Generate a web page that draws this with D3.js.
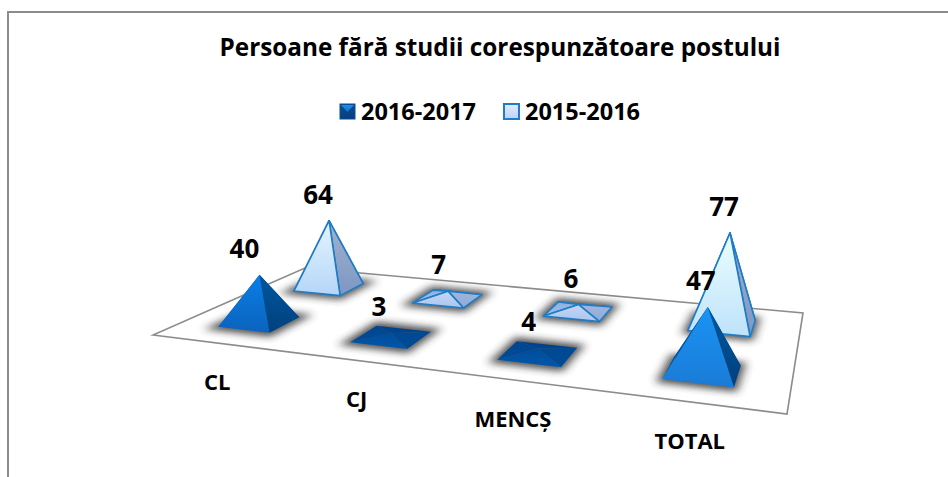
<!DOCTYPE html>
<html>
<head>
<meta charset="utf-8">
<script src="https://cdnjs.cloudflare.com/ajax/libs/d3/7.8.5/d3.min.js"></script>
<style>
  html, body { margin: 0; background: #fff; }
  text { font-family: "Open Sans", Lato, sans-serif; font-weight: 700; fill: #000; }
</style>
</head>
<body>
<div id="chartArea"></div>
<script>
const svgWidth = 948;
const svgHeight = 477;

const categories = ['CL', 'CJ', 'MENCȘ', 'TOTAL'];
const seriesNames = ['2016-2017', '2015-2016'];
const values2016 = [40, 3, 4, 47];
const values2015 = [64, 7, 6, 77];

const canvas = d3.select('#chartArea')
  .append('svg')
  .attr('width', svgWidth)
  .attr('height', svgHeight)
  .style('display', 'block');

// floor corners on screen: front left, front right, back right, back left
const floorCorners = [[153, 335], [787, 414], [803, 313], [305, 268]];

// homography from the unit square to the floor
const [[x0, y0], [x1, y1], [x2, y2], [x3, y3]] = floorCorners;
const sx = x0 - x1 + x2 - x3;
const sy = y0 - y1 + y2 - y3;
const den = (x1 - x2) * (y3 - y2) - (x3 - x2) * (y1 - y2);
const g = (sx * (y3 - y2) - (x3 - x2) * sy) / den;
const h = ((x1 - x2) * sy - sx * (y1 - y2)) / den;

function floorPoint(u, v) {
  const w = 1 + g * u + h * v;
  return [
    ((x1 - x0 + g * x1) * u + (x3 - x0 + h * x3) * v + x0) / w,
    ((y1 - y0 + g * y1) * u + (y3 - y0 + h * y3) * v + y0) / w
  ];
}

const uScale = d3.scaleBand().domain(categories).range([0, 1]).paddingInner(0.6).paddingOuter(0.3);
const vScale = d3.scaleBand().domain(seriesNames).range([0, 1]).paddingInner(0.61).paddingOuter(0.305);
const heightScale = d3.scaleLinear().domain([0, 1]).range([0, 1.23]);
const leanScale = d3.scaleLinear().domain([0.125, 0.875]).range([0, 0.085]);
const labelShift = {
  '2016-2017': d3.scaleLinear().domain([0.125, 0.875]).range([-15, -7]),
  '2015-2016': d3.scaleLinear().domain([0.125, 0.875]).range([-11, -6])
};

function pyramid(cat, name, value) {
  const u = uScale(cat);
  const v = vScale(name);
  const bu = uScale.bandwidth();
  const bv = vScale.bandwidth();
  const uc = u + bu / 2;
  const vc = v + bv / 2;
  const w = 1 + g * uc + h * vc;
  const px = heightScale(value) / w;
  const c = floorPoint(uc, vc);
  return {
    cat, name, value, uc,
    apex: [c[0] + px * leanScale(uc), c[1] - px],
    fl: floorPoint(u, v),
    fr: floorPoint(u + bu, v),
    br: floorPoint(u + bu, v + bv),
    bl: floorPoint(u, v + bv)
  };
}

const pyramids2016 = categories.map((c, i) => pyramid(c, seriesNames[0], values2016[i]));
const pyramids2015 = categories.map((c, i) => pyramid(c, seriesNames[1], values2015[i]));

const defs = canvas.append('defs');
const blur = defs.append('filter')
  .attr('id', 'baseShadow')
  .attr('x', '-50%').attr('y', '-80%').attr('width', '200%').attr('height', '260%');
blur.append('feGaussianBlur').attr('stdDeviation', '5 3.5');

function addGradient(id, top, bottom) {
  const grad = defs.append('linearGradient')
    .attr('id', id)
    .attr('x1', 0).attr('y1', 0).attr('x2', 0).attr('y2', 1);
  grad.append('stop').attr('offset', 0).attr('stop-color', top);
  grad.append('stop').attr('offset', 1).attr('stop-color', bottom);
}

// tall pyramids
addGradient('darkFront', '#0a7fe6', '#0b62bd');
addGradient('darkRight', '#00569f', '#00417f');
addGradient('darkBack', '#003f85', '#00468f');
addGradient('darkLeft', '#024c9a', '#0457a8');
addGradient('lightFront', '#e4f4ff', '#b5d6f8');
addGradient('lightRight', '#a3b2cd', '#7d97c4');
addGradient('lightBack', '#7fa3d2', '#8fb0d8');
addGradient('lightLeft', '#8fb4e0', '#a9c6ec');
// the TOTAL column is lit a bit more
addGradient('totalDarkFront', '#1a94f5', '#1a7bd6');
addGradient('totalLightFront', '#eafeff', '#bfe2fa');
// nearly flat pyramids look at the ceiling, so their faces stay close together
addGradient('flatDarkFront', '#004d9b', '#0057ab');
addGradient('flatDarkRight', '#004a95', '#004a93');
addGradient('flatDarkBack', '#00418a', '#00458e');
addGradient('flatDarkLeft', '#00458e', '#004c99');
addGradient('flatLightFront', '#c6d8f4', '#a9c5ee');
addGradient('flatLightRight', '#a0b6dc', '#8fabd8');
addGradient('flatLightBack', '#7ea3d4', '#8aaedc');
addGradient('flatLightLeft', '#8fb2e0', '#9dbde8');
// legend swatches
addGradient('swatchDark', '#0a4c92', '#083f7c');
addGradient('swatchDarkTop', '#1c8fe6', '#1270c4');
addGradient('swatchLight', '#e2ecff', '#bcd0f8');

// floor
canvas.append('polygon')
  .attr('points', floorCorners.join(' '))
  .attr('fill', '#fff')
  .attr('stroke', '#8c8c8c')
  .attr('stroke-width', 1.6);

// outer frame of the picture, open on the right and bottom
canvas.append('path')
  .attr('d', d3.line()([[8, 477], [8, 12], [svgWidth, 12]]))
  .attr('fill', 'none')
  .attr('stroke', '#8c8c8c')
  .attr('stroke-width', 2);

function faceFill(d, style, face) {
  const cap = style.charAt(0).toUpperCase() + style.slice(1);
  if (d.value < 10) return `url(#flat${cap}${face})`;
  if (d.cat === 'TOTAL' && face === 'Front') return `url(#total${cap}Front)`;
  return `url(#${style}${face})`;
}

function drawPyramids(group, data, style) {
  const items = group.selectAll('g').data(data).join('g');

  items.append('polygon')
    .attr('points', d => [d.fl, d.fr, d.br, d.bl].join(' '))
    .attr('fill', '#2b2b2b')
    .attr('stroke', '#2b2b2b')
    .attr('stroke-width', 8)
    .attr('opacity', 0.8)
    .attr('filter', 'url(#baseShadow)');

  const faces = [
    ['Back', d => [d.bl, d.br, d.apex]],
    ['Left', d => [d.fl, d.bl, d.apex]],
    ['Right', d => [d.fr, d.br, d.apex]],
    ['Front', d => [d.fl, d.fr, d.apex]]
  ];
  faces.forEach(([face, pts]) => {
    items.append('polygon')
      .attr('points', d => pts(d).join(' '))
      .attr('fill', d => faceFill(d, style, face))
      .attr('stroke', style === 'light' ? '#1f7cc6' : 'none')
      .attr('stroke-width', 1.6)
      .attr('stroke-linejoin', 'round');
  });
}

// back row first so that the front row covers it
drawPyramids(canvas.append('g'), pyramids2015, 'light');
drawPyramids(canvas.append('g'), pyramids2016, 'dark');

// value labels
canvas.append('g')
  .selectAll('text')
  .data(pyramids2015.concat(pyramids2016))
  .join('text')
  .attr('x', d => d.apex[0] + labelShift[d.name](d.uc))
  .attr('y', d => d.apex[1] - 26)
  .attr('dy', '0.35em')
  .attr('text-anchor', 'middle')
  .attr('font-size', 26)
  .text(d => d.value);

// category labels
canvas.append('g')
  .selectAll('text')
  .data(categories)
  .join('text')
  .attr('x', d => floorPoint(uScale(d) + uScale.bandwidth() / 2, 0)[0])
  .attr('y', d => floorPoint(uScale(d) + uScale.bandwidth() / 2, 0)[1] + 39)
  .attr('dy', '0.35em')
  .attr('text-anchor', 'middle')
  .attr('font-size', 22)
  .text(d => d);

// title
canvas.append('text')
  .attr('x', 500)
  .attr('y', 47)
  .attr('dy', '0.35em')
  .attr('text-anchor', 'middle')
  .attr('font-size', 24.3)
  .text('Persoane fără studii corespunzătoare postului');

// legend
const legendX = d3.scaleOrdinal().domain(seriesNames).range([340, 504]);
const legend = canvas.append('g')
  .selectAll('g')
  .data(seriesNames)
  .join('g')
  .attr('transform', d => `translate(${legendX(d)},104)`);

legend.append('rect')
  .attr('width', 15)
  .attr('height', 15)
  .attr('fill', (d, i) => i === 0 ? 'url(#swatchDark)' : 'url(#swatchLight)')
  .attr('stroke', (d, i) => i === 0 ? '#0a4f96' : '#1f7cc6')
  .attr('stroke-width', (d, i) => i === 0 ? 1 : 2);

legend.filter((d, i) => i === 0)
  .append('path')
  .attr('d', 'M1,1H14L7.5,8Z')
  .attr('fill', 'url(#swatchDarkTop)');

legend.append('text')
  .attr('x', 21)
  .attr('y', 8)
  .attr('dy', '0.35em')
  .attr('font-size', 23.5)
  .text(d => d);
</script>
</body>
</html>
